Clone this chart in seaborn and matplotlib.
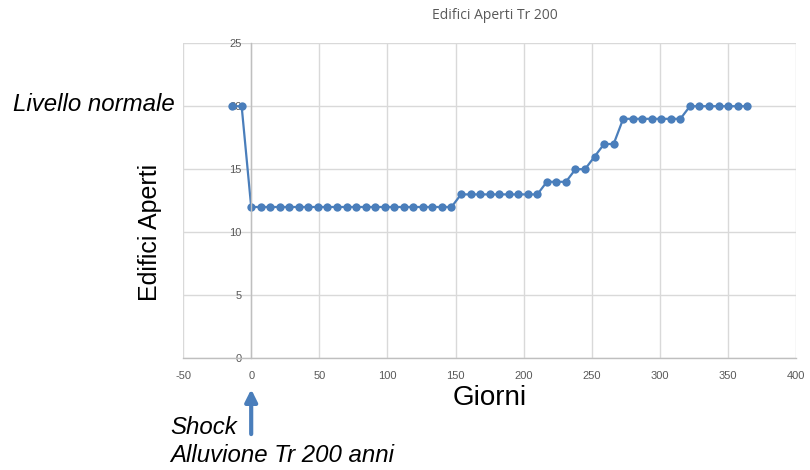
import numpy as np
import pandas as pd
import seaborn as sns
import matplotlib.pyplot as plt

# Weekly count of open buildings around the flood event (day 0)
days = [-14, -7] + list(range(0, 365, 7))
open_buildings = (
    [20, 20]
    + [12] * 22
    + [13] * 9
    + [14] * 3
    + [15] * 2
    + [16] * 1
    + [17] * 2
    + [19] * 7
    + [20] * 7
)
x_ticks = list(range(-50, 401, 50))
y_ticks = list(range(0, 26, 5))

df = pd.DataFrame({"Giorni": days, "Edifici Aperti": open_buildings})

sns.set_theme(style="whitegrid")
plt.rcParams["font.family"] = ["Liberation Sans", "DejaVu Sans"]
plt.rcParams["axes.unicode_minus"] = False

blue = "#4a7ebb"
grid_grey = "#d9d9d9"
tick_grey = "#595959"

fig = plt.figure(figsize=(8.1, 4.7), dpi=100)
ax = fig.add_axes([0.226, 0.238, 0.757, 0.670])

sns.lineplot(data=df, x="Giorni", y="Edifici Aperti", ax=ax, color=blue,
             marker="o", markersize=6, markeredgewidth=0, linewidth=1.6)

ax.set_xlim(-50, 400)
ax.set_ylim(0, 25)
ax.set_xticks(x_ticks)
ax.set_yticks(y_ticks)
ax.grid(True, color=grid_grey, linewidth=1.0)
ax.set_axisbelow(True)

for side in ("top", "right"):
    ax.spines[side].set_visible(False)
ax.spines["left"].set_position(("data", 0))
ax.spines["left"].set_color("#bfbfbf")
ax.spines["left"].set_linewidth(1.0)
ax.spines["bottom"].set_color("#bfbfbf")
ax.spines["bottom"].set_linewidth(1.0)

ax.tick_params(axis="both", length=0, labelsize=8, labelcolor=tick_grey)
ax.tick_params(axis="x", pad=9)
ax.tick_params(axis="y", pad=7)

ax.set_xlabel("Giorni", fontsize=20, color="black", labelpad=3)
ax.set_ylabel("")
fig.text(0.185, 0.505, "Edifici Aperti", rotation=90, fontsize=18,
         ha="center", va="center", color="black")

fig.text(0.611, 0.968, "Edifici Aperti Tr 200", fontsize=10,
         family=["Open Sans", "DejaVu Sans"], color="#595959",
         ha="center", va="center")

fig.text(0.016, 0.778, "Livello normale", fontsize=17.3, style="italic",
         ha="left", va="center", color="black")
fig.text(0.21, 0.090, "Shock", fontsize=17.3, style="italic",
         ha="left", va="center", color="black")
fig.text(0.21, 0.030, "Alluvione Tr 200 anni", fontsize=17.3, style="italic",
         ha="left", va="center", color="black")

ax.annotate("", xy=(0, -0.09), xytext=(0, -0.25),
            xycoords=("data", "axes fraction"),
            textcoords=("data", "axes fraction"),
            arrowprops=dict(arrowstyle="-|>,head_length=0.6,head_width=0.3",
                            color=blue, lw=3), annotation_clip=False)

fig.savefig("out.png", dpi=100)
